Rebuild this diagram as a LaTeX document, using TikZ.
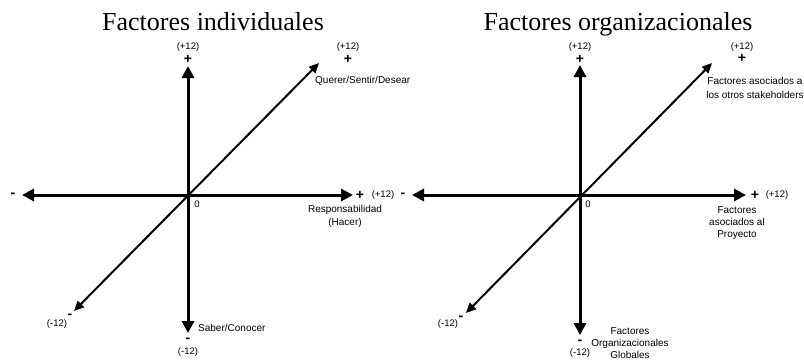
\documentclass[tikz,border=0pt]{standalone}
\usepackage{fontspec}
\setmainfont{Liberation Serif}
\setsansfont{Liberation Sans}
\usetikzlibrary{arrows.meta}
\begin{document}
\begin{tikzpicture}[x=1pt,y=-1pt,
  bigaxis/.style={line width=3pt,{Triangle[length=12pt,width=12pt]}-{Triangle[length=12pt,width=12pt]}},
  diagaxis/.style={line width=2pt,{Triangle[length=10pt,width=9pt]}-{Triangle[length=10pt,width=9pt]}},
  ttl/.style={font=\fontsize{26}{28}\selectfont, inner sep=0pt, anchor=base},
  lbl/.style={font=\sffamily\fontsize{10}{13}\selectfont, inner sep=0pt, align=center},
  num/.style={font=\sffamily\fontsize{9.5}{11}\selectfont, inner sep=0pt},
  sgn/.style={font=\sffamily\bfseries\fontsize{14}{14}\selectfont, inner sep=0pt}]
\useasboundingbox (0,0) rectangle (804,360);
\clip (0,0) rectangle (804,360);

% ---------- Left: Factores individuales ----------
\node[ttl] (t1) at (213,30) {Factores individuales};
\coordinate (L-top) at (188,66);
\coordinate (L-bot) at (188,333);
\coordinate (L-left) at (22,195);
\coordinate (L-right) at (353,195);
\coordinate (L-ur) at (319,63);
\coordinate (L-ll) at (74,311);
\draw[bigaxis] (L-bot) -- (L-top);
\draw[bigaxis] (L-left) -- (L-right);
\draw[diagaxis] (L-ll) -- (L-ur);

\node[num] (l-tp12) at (188,47) {(+12)};
\node[sgn] (l-tp) at (188,59) {+};
\node[num] (l-dp12) at (348,47) {(+12)};
\node[sgn] (l-dp) at (348,59) {+};
\node[lbl, anchor=west] (l-querer) at (315,81) {Querer/Sentir/Desear};
\node[sgn] (l-hm) at (13,195) {-};
\node[sgn] (l-hp) at (360,195) {+};
\node[num] (l-hp12) at (383,195) {(+12)};
\node[num] (l-zero) at (197,204) {0};
\node[lbl] (l-resp) at (345,216) {Responsabilidad\\(Hacer)};
\node[num] (l-dm12) at (57,324) {(-12)};
\node[sgn] (l-dm) at (70,316) {-};
\node[lbl, anchor=west] (l-saber) at (198,328) {Saber/Conocer};
\node[sgn] (l-vm) at (188,340) {-};
\node[num] (l-vm12) at (188,352) {(-12)};

% ---------- Right: Factores organizacionales ----------
\node[ttl] (t2) at (618,30) {Factores organizacionales};
\coordinate (R-top) at (580,65);
\coordinate (R-bot) at (580,335);
\coordinate (R-left) at (412,195);
\coordinate (R-right) at (746,195);
\coordinate (R-ur) at (712,63);
\coordinate (R-ll) at (466,313);
\draw[bigaxis] (R-bot) -- (R-top);
\draw[bigaxis] (R-left) -- (R-right);
\draw[diagaxis] (R-ll) -- (R-ur);

\node[num] (r-tp12) at (580,47) {(+12)};
\node[sgn] (r-tp) at (580,59) {+};
\node[num] (r-dp12) at (742,47) {(+12)};
\node[sgn] (r-dp) at (742,58) {+};
\node[lbl, font=\sffamily\fontsize{10}{14}\selectfont] (r-otros) at (755,88) {Factores asociados a\\los otros stakeholders};
\node[sgn] (r-hm) at (403,195) {-};
\node[sgn] (r-hp) at (755,195) {+};
\node[num] (r-hp12) at (777,195) {(+12)};
\node[num] (r-zero) at (588,204) {0};
\node[lbl, font=\sffamily\fontsize{10}{12}\selectfont] (r-proy) at (737,223) {Factores\\asociados al\\Proyecto};
\node[num] (r-dm12) at (448,324) {(-12)};
\node[sgn] (r-dm) at (461,318) {-};
\node[lbl, font=\sffamily\fontsize{10}{12}\selectfont] (r-glob) at (630,343) {Factores\\Organizacionales\\Globales};
\node[sgn] (r-vm) at (580,342) {-};
\node[num] (r-vm12) at (580,353) {(-12)};
\end{tikzpicture}
\end{document}
